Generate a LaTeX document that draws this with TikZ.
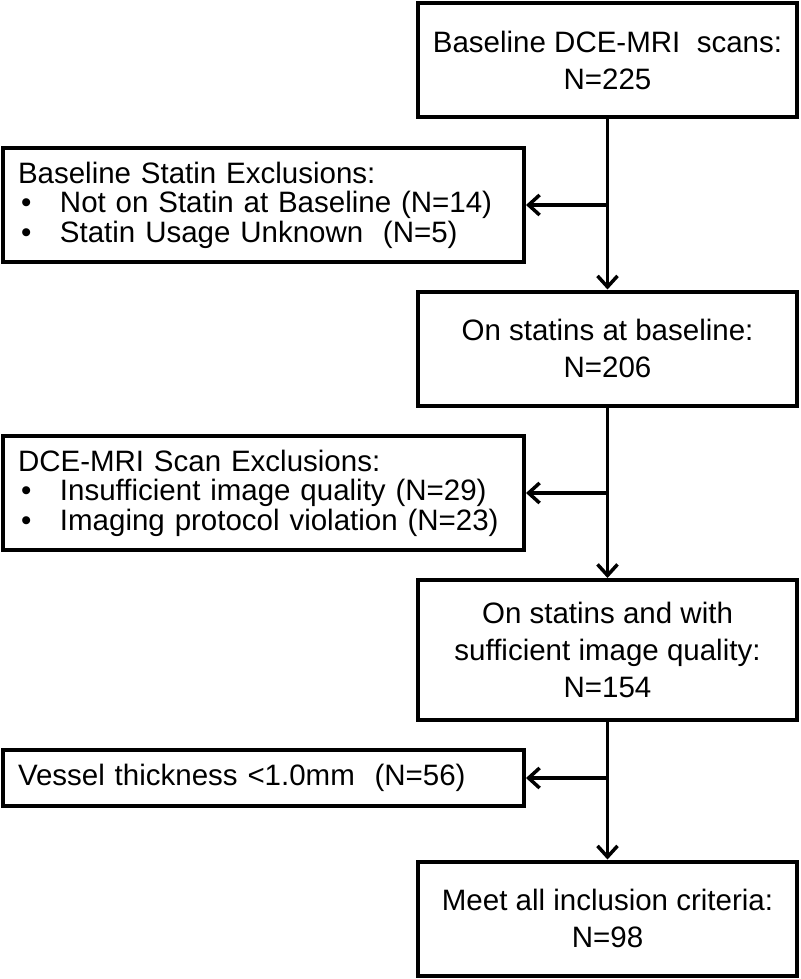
\documentclass[tikz,border=0pt]{standalone}
\usepackage{fontspec}
\setmainfont{Liberation Sans}
\usetikzlibrary{arrows.meta}
\tikzset{
  mainbox/.style={draw=black, line width=4pt, minimum width=379pt, minimum height=114pt,
    align=center, inner sep=0pt, font=\fontsize{29.5}{37}\selectfont},
  exclbox/.style={draw=black, line width=4pt, minimum width=521pt, minimum height=114pt,
    text width=491pt, align=left, inner xsep=15pt, inner ysep=0pt,
    font=\fontsize{29.5}{29.5}\selectfont},
  conn/.style={line width=3.5pt, -{Straight Barb[length=11pt,width=20pt,line width=3.5pt]}}
}
\newcommand{\bul}{\makebox[42pt][l]{\hspace{3pt}•}}
\begin{document}
\begin{tikzpicture}[x=1pt,y=-1pt]
\useasboundingbox (0,0) rectangle (800,979);
\node[mainbox] (b1) at (607.5,60) {Baseline DCE-MRI\ \ scans:\\N=225};
\node[exclbox] (b2) at (263.5,205) {Baseline Statin Exclusions:\\\bul Not on Statin at Baseline (N=14)\\\bul Statin Usage Unknown\ \ (N=5)};
\node[mainbox] (b3) at (607.5,348.5) {On statins at baseline:\\N=206};
\node[exclbox] (b4) at (263.5,493) {DCE-MRI Scan Exclusions:\\\bul Insufficient image quality (N=29)\\\bul Imaging protocol violation (N=23)};
\node[mainbox, minimum height=140pt] (b5) at (607.5,650) {On statins and with\\sufficient image quality:\\N=154};
\node[exclbox, minimum height=56pt] (b6) at (263.5,778) {Vessel thickness <1.0mm\ \ (N=56)};
\node[mainbox] (b7) at (607.5,918.5) {Meet all inclusion criteria:\\N=98};
\draw[conn] (b1.south) -- (b3.north);
\draw[conn] (b1.south |- b2.east) -- (b2.east);
\draw[conn] (b3.south) -- (b5.north);
\draw[conn] (b3.south |- b4.east) -- (b4.east);
\draw[conn] (b5.south) -- (b7.north);
\draw[conn] (b5.south |- b6.east) -- (b6.east);
\end{tikzpicture}
\end{document}
